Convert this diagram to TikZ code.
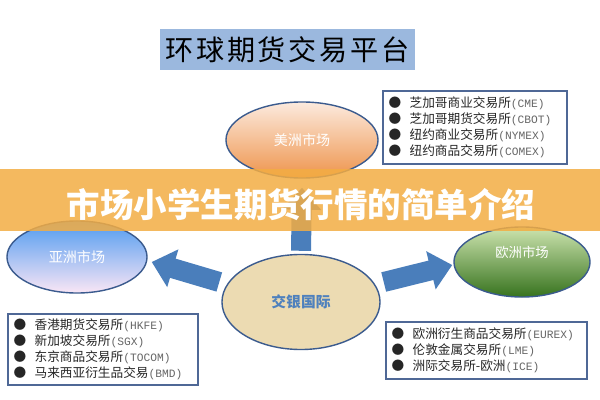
\documentclass[tikz,border=0pt]{standalone}
\usepackage{fontspec}
\setmainfont{Noto Sans CJK SC}
\newfontfamily\latinfont{Liberation Mono}
\usepackage{xcolor}
\usepackage{tikz}
\usetikzlibrary{positioning,arrows.meta,shapes.geometric,calc}

\definecolor{titleblue}{RGB}{155,184,222}
\definecolor{arrowblue}{RGB}{74,126,187}
\definecolor{rimblue}{RGB}{59,91,142}
\definecolor{listrim}{RGB}{79,104,150}
\definecolor{bannerorange}{RGB}{243,173,67}
\definecolor{sandfill}{RGB}{236,219,178}
\definecolor{labelblue}{RGB}{79,129,189}

\newcommand{\dotitem}{\makebox[15pt][l]{●}}
\newcommand{\code}[1]{{\latinfont\fontsize{8}{9}\selectfont\color{black!60}(#1)}}

\begin{document}
\begin{tikzpicture}[x=0.025cm, y=-0.025cm,
    market/.style={ellipse, draw=rimblue, line width=1pt, inner sep=0pt,
      text=white, font=\fontsize{10}{12}\selectfont},
    listbox/.style={draw=listrim, line width=1pt, fill=white, align=left,
      inner xsep=0.14cm, inner ysep=0pt, text=black!85,
      font=\fontsize{9}{11.5}\selectfont},
    bigarrow/.style={arrowblue, line width=0.5cm,
      -{Triangle[length=0.55cm, width=0.95cm]}}]
  \fill[white] (0,0) rectangle (600,400);
  \useasboundingbox (0,0) rectangle (600,400);

  \node[fill=titleblue, minimum width=6.375cm, minimum height=1.025cm,
        inner sep=0pt, font=\addfontfeatures{LetterSpace=10}\fontsize{20}{24}\selectfont]
    (title) at (287.5,49.5) {环球期货交易平台};

  \node[market, minimum width=3.8cm, minimum height=1.9cm,
        top color={rgb,255:red,252;green,234;blue,222},
        middle color={rgb,255:red,247;green,188;blue,140},
        bottom color={rgb,255:red,238;green,148;blue,76}]
    (amer) at (302,140) {美洲市场};
  \node[market, minimum width=3.5cm, minimum height=1.8cm,
        top color={rgb,255:red,80;green,155;blue,240},
        middle color={rgb,255:red,165;green,198;blue,240},
        bottom color={rgb,255:red,250;green,230;blue,245}]
    (asia) at (77,257) {亚洲市场};
  \node[market, minimum width=3.4cm, minimum height=1.75cm,
        top color={rgb,255:red,205;green,228;blue,175},
        middle color={rgb,255:red,120;green,175;blue,70},
        bottom color={rgb,255:red,55;green,115;blue,30}]
    (eur) at (522,262) {};
  \node[text=white, font=\fontsize{9.5}{12}\selectfont]
    (eurtext) at ([yshift=0.23cm]eur.center) {欧洲市场};
  \node[market, minimum width=3.95cm, minimum height=2.375cm, fill=sandfill,
        text=labelblue, font=\bfseries\fontsize{10.5}{12}\selectfont]
    (mid) at (301,302) {交银国际};

  \draw[bigarrow] ([shift={(0,-3)}]mid.north) -- ([shift={(0,9)}]amer.south);
  \draw[bigarrow] ([shift={(-2,-20)}]mid.west) -- ([shift={(4,5)}]asia.east);
  \draw[bigarrow] ([shift={(3,-20)}]mid.east) -- ([shift={(-1,3)}]eur.west);

  \node[listbox, text width=4.32cm, minimum height=1.825cm] (amerlist) at (475,127.5)
    {\dotitem 芝加哥商业交易所\code{CME}\\
     \dotitem 芝加哥期货交易所\code{CBOT}\\
     \dotitem 纽约商业交易所\code{NYMEX}\\
     \dotitem 纽约商品交易所\code{COMEX}};
  \node[listbox, text width=4.47cm, minimum height=1.775cm] (asialist) at (103,349.5)
    {\dotitem 香港期货交易所\code{HKFE}\\
     \dotitem 新加坡交易所\code{SGX}\\
     \dotitem 东京商品交易所\code{TOCOM}\\
     \dotitem 马来西亚衍生品交易\code{BMD}};
  \node[listbox, text width=4.745cm, minimum height=1.425cm] (eurlist) at (486.5,350.5)
    {\dotitem 欧洲衍生商品交易所\code{EUREX}\\
     \dotitem 伦敦金属交易所\code{LME}\\
     \dotitem 洲际交易所-欧洲\code{ICE}};

  \node[fill=bannerorange, fill opacity=0.85, minimum width=15cm,
        minimum height=1.55cm, inner sep=0pt] (banner) at (300,200) {};
  \node[text=white, font=\bfseries\fontsize{23.8}{28}\selectfont]
    (bannertext) at (301,205) {市场小学生期货行情的简单介绍};
\end{tikzpicture}
\end{document}
